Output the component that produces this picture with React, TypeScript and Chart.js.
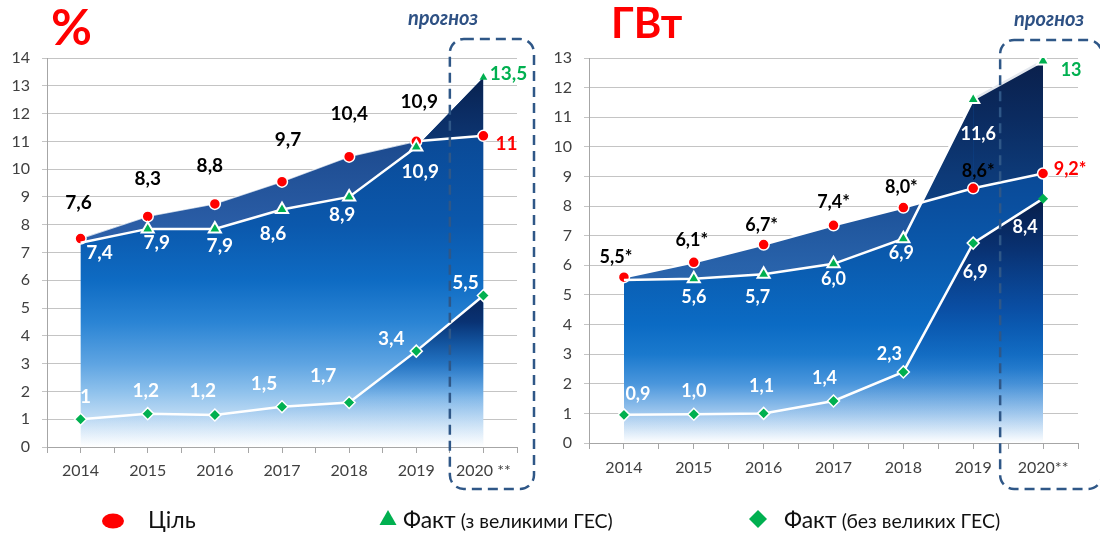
import React, { useEffect, useRef } from 'react';
import { Chart, registerables } from 'chart.js';
Chart.register(...registerables);

const FONT = "Lato, 'Noto Sans', sans-serif";

// ---------- data: % chart ----------
const yearsPct = ['2014', '2015', '2016', '2017', '2018', '2019', '2020 **'];
const pctTarget = [7.5, 8.3, 8.75, 9.55, 10.45, 11.0, 11.2];
const pctTargetLabels = ['7,6', '8,3', '8,8', '9,7', '10,4', '10,9', '11'];
const pctFactBig = [7.35, 7.85, 7.85, 8.55, 9.0, 10.8, 13.3];
const pctFactBigLabels = ['7,4', '7,9', '7,9', '8,6', '8,9', '10,9', '13,5'];
const pctFactNoBig = [1.0, 1.2, 1.15, 1.45, 1.6, 3.45, 5.45];
const pctFactNoBigLabels = ['1', '1,2', '1,2', '1,5', '1,7', '3,4', '5,5'];

// ---------- data: GW chart ----------
const yearsGw = ['2014', '2015', '2016', '2017', '2018', '2019', '2020**'];
const gwTarget = [5.6, 6.1, 6.7, 7.35, 7.95, 8.6, 9.1];
const gwTargetLabels = ['5,5*', '6,1*', '6,7*', '7,4*', '8,0*', '8,6*', '9,2*'];
const gwFactBig = [5.5, 5.55, 5.7, 6.05, 6.9, 11.6, 12.9];
const gwFactBigLabels = ['', '5,6', '5,7', '6,0', '6,9', '11,6', '13'];
const gwFactNoBig = [0.95, 0.97, 1.0, 1.42, 2.4, 6.75, 8.25];
const gwFactNoBigLabels = ['0,9', '1,0', '1,1', '1,4', '2,3', '6,9', '8,4'];

const legendItems = ['Ціль', 'Факт', '(з великими ГЕС)', 'Факт', '(без великих ГЕС)'];

type Stops = [number, string][];

const RED = '#ff0000';
const GREEN = '#00b050';

const leftSpec = {
  years: yearsPct,
  max: 14,
  target: pctTarget,
  factBig: pctFactBig,
  factNoBig: pctFactNoBig,
  yWidth: 47,
  padding: { top: 58, right: 583, bottom: 49, left: 0 },
  xPad: 8,
  labelSize: 19,
  labels: [
    { ds: 0, text: pctTargetLabels, color: ['#000', '#000', '#000', '#000', '#000', '#000', RED],
      off: [[-2, -36], [0, -38], [-5, -38], [6, -42], [0, -43], [3, -39], [23, 8]] },
    { ds: 2, text: pctFactBigLabels, color: ['#fff', '#fff', '#fff', '#fff', '#fff', '#fff', GREEN],
      off: [[19, 10], [9, 14], [5, 17], [-9, 24], [-7, 18], [4, 25], [25, -4]] },
    { ds: 3, text: pctFactNoBigLabels, color: '#fff',
      off: [[5, -22], [-2, -23], [-12, -24], [-18, -23], [-26, -27], [-25, -12], [-18, -13]] },
  ],
  targetSegment: {
    borderWidth: (c: any) => (c.p0DataIndex < 5 ? 1.2 : 2.5),
    borderColor: (c: any) => (c.p0DataIndex < 5 ? 'rgba(255,255,255,0.75)' : '#ffffff'),
  },
  factSegment: {
    borderColor: (c: any) => (c.p0DataIndex >= 5 ? 'rgba(0,0,0,0)' : '#ffffff'),
  },
  factRadius: [0, 7, 7, 7, 7, 7, 4.5],
  factBorder: [0, 2, 2, 2, 2, 2, 0],
  noBigRadius: [6, 6, 6, 6, 6, 6, 6],
  noBigBorder: [1.5, 1.5, 1.5, 1.5, 1.5, 1.5, 1.5],
  lightStops: [[11.5, '#0a4894'], [8, '#0b58ac'], [6, '#0e6bc3'], [4.5, '#2a84d4'], [3, '#5ea4e2'], [2, '#8ec1ec'], [1, '#c4def5'], [0, '#ffffff']] as Stops,
  midStops: [[11, '#1c4a8e'], [8, '#2a5da6'], [7, '#2f64ad']] as Stops,
  navyStops: [[13.5, '#08204c'], [12, '#0b2d64'], [10.5, '#0e3a78']] as Stops,
  darkStops: [[5.5, 'rgba(8,36,90,1)'], [4.5, 'rgba(9,50,115,1)'], [3, 'rgba(12,95,180,0.7)'], [1.8, 'rgba(30,120,210,0.2)'], [0, 'rgba(255,255,255,0)']] as Stops,
  title: { text: '%', x: 51, y: 45, size: 50 },
  forecast: { x: 443, y: 25 },
  box: { dl: 0, dr: 17, dt: 19, db: 42 },
  legend: true,
};

const rightSpec = {
  years: yearsGw,
  max: 13,
  target: gwTarget,
  factBig: gwFactBig,
  factNoBig: gwFactNoBig,
  yWidth: 41,
  padding: { top: 58, right: 22, bottom: 53, left: 0 },
  xPad: 9,
  labelSize: 18,
  labels: [
    { ds: 0, text: gwTargetLabels, color: ['#000', '#000', '#000', '#000', '#000', '#000', RED],
      off: [[-8, -20], [-2, -22], [-2, -19], [0, -23], [-2, -20], [5, -17], [27, -4]] },
    { ds: 2, text: gwFactBigLabels, color: ['#fff', '#fff', '#fff', '#fff', '#fff', '#fff', GREEN],
      off: [[0, 0], [0, 19], [-6, 23], [0, 15], [-2, 15], [5, 35], [28, 9]] },
    { ds: 3, text: gwFactNoBigLabels, color: '#fff',
      off: [[14, -21], [0, -23], [-2, -27], [-9, -23], [-14, -18], [2, 29], [-18, 29]] },
  ],
  targetSegment: {},
  factSegment: {
    borderColor: (c: any) => (c.p0DataIndex >= 5 ? '#e4e8ee' : '#ffffff'),
  },
  factRadius: [0, 7, 7, 7, 7, 7, 7],
  factBorder: [0, 2, 2, 2, 2, 2, 2],
  noBigRadius: [6, 6, 6, 6, 6, 6, 5],
  noBigBorder: [1.5, 1.5, 1.5, 1.5, 1.5, 1.5, 0],
  lightStops: [[10, '#0a4590'], [8, '#0a4f9f'], [6, '#0a5cb0'], [4, '#0b6bc4'], [3, '#1a79cd'], [2, '#4a96dc'], [1, '#a0c8ee'], [0, '#ffffff']] as Stops,
  midStops: [[8, '#1d5299'], [6, '#2862aa'], [5, '#2d67ae']] as Stops,
  navyStops: [[13, '#0a1f4a'], [11, '#0b2b60'], [9, '#0d3a78'], [7, '#0f4588']] as Stops,
  darkStops: [[8.4, 'rgba(7,28,70,1)'], [6.5, 'rgba(9,50,115,1)'], [4.5, 'rgba(10,75,160,0.85)'], [2.5, 'rgba(12,100,190,0.35)'], [0, 'rgba(255,255,255,0)']] as Stops,
  title: { text: 'ГВт', x: 63, y: 38, size: 42 },
  forecast: { x: 501, y: 26 },
  box: { dl: -8, dr: 24, dt: 18, db: 46 },
  legend: false,
};

function makeGrad(chart: any, stops: Stops) {
  const y = chart.scales.y;
  const top = y.getPixelForValue(y.max);
  const bottom = y.getPixelForValue(0);
  const g = chart.ctx.createLinearGradient(0, top, 0, bottom);
  for (const [v, c] of stops) {
    const p = (y.getPixelForValue(v) - top) / (bottom - top);
    g.addColorStop(Math.min(1, Math.max(0, p)), c);
  }
  return g;
}

function buildChart(canvas: HTMLCanvasElement, s: any) {
  const pts = (arr: number[]) => arr.map((v, i) => ({ x: i, y: v }));

  const decor = {
    id: 'decor',
    afterDatasetsDraw(chart: any) {
      const ctx = chart.ctx;
      ctx.save();
      ctx.textAlign = 'center';
      ctx.textBaseline = 'middle';
      ctx.font = `bold ${s.labelSize}px ${FONT}`;
      for (const l of s.labels) {
        const meta = chart.getDatasetMeta(l.ds);
        l.text.forEach((t: string, i: number) => {
          if (!t) return;
          const p = meta.data[i];
          ctx.fillStyle = Array.isArray(l.color) ? l.color[i] : l.color;
          ctx.fillText(t, p.x + l.off[i][0], p.y + l.off[i][1]);
        });
      }
      ctx.restore();
    },
    afterDraw(chart: any) {
      const ctx = chart.ctx;
      const xs = chart.scales.x;
      const ys = chart.scales.y;
      ctx.save();
      // title
      ctx.fillStyle = RED;
      ctx.font = `bold ${s.title.size}px ${FONT}`;
      ctx.textAlign = 'left';
      ctx.textBaseline = 'alphabetic';
      ctx.fillText(s.title.text, s.title.x, s.title.y);
      // forecast caption
      ctx.fillStyle = '#2e5184';
      ctx.font = `italic bold 20px ${FONT}`;
      ctx.textAlign = 'center';
      ctx.fillText('прогноз', s.forecast.x, s.forecast.y);
      // dashed box
      const x0 = xs.getPixelForValue(5.5) + s.box.dl;
      const x1 = xs.right + s.box.dr;
      const y0 = ys.top - s.box.dt;
      const y1 = ys.bottom + s.box.db;
      ctx.strokeStyle = '#2f5787';
      ctx.lineWidth = 2.5;
      ctx.setLineDash([10, 6]);
      ctx.beginPath();
      (ctx as any).roundRect(x0, y0, x1 - x0, y1 - y0, 14);
      ctx.stroke();
      ctx.setLineDash([]);
      // legend
      if (s.legend) {
        ctx.fillStyle = RED;
        ctx.beginPath();
        ctx.ellipse(113, 521, 11, 7.5, 0, 0, Math.PI * 2);
        ctx.fill();
        ctx.fillStyle = '#111';
        ctx.textAlign = 'left';
        ctx.textBaseline = 'alphabetic';
        ctx.font = `23px ${FONT}`;
        ctx.fillText(legendItems[0], 148, 528);

        ctx.fillStyle = GREEN;
        ctx.beginPath();
        ctx.moveTo(388, 510);
        ctx.lineTo(396.5, 525);
        ctx.lineTo(379.5, 525);
        ctx.closePath();
        ctx.fill();
        ctx.fillStyle = '#111';
        ctx.font = `23px ${FONT}`;
        ctx.fillText(legendItems[1], 403, 528);
        const w1 = ctx.measureText(legendItems[1]).width;
        ctx.font = `19.5px ${FONT}`;
        ctx.fillText(legendItems[2], 403 + w1 + 5, 528);

        ctx.fillStyle = GREEN;
        ctx.beginPath();
        ctx.moveTo(758, 510);
        ctx.lineTo(767, 519);
        ctx.lineTo(758, 528);
        ctx.lineTo(749, 519);
        ctx.closePath();
        ctx.fill();
        ctx.fillStyle = '#111';
        ctx.font = `23px ${FONT}`;
        ctx.fillText(legendItems[3], 784, 528);
        const w2 = ctx.measureText(legendItems[3]).width;
        ctx.font = `19.5px ${FONT}`;
        ctx.fillText(legendItems[4], 784 + w2 + 5, 528);
      }
      ctx.restore();
    },
  };

  const chart = new Chart(canvas, {
    type: 'line',
    data: {
      datasets: [
        {
          label: 'target',
          data: pts(s.target),
          order: 5,
          borderColor: '#ffffff',
          borderWidth: 2.5,
          segment: s.targetSegment,
          pointStyle: 'circle',
          pointRadius: 5.5,
          pointBackgroundColor: RED,
          pointBorderColor: '#ffffff',
          pointBorderWidth: 1.5,
          fill: 'origin',
          backgroundColor: 'rgba(0,0,0,0)',
        },
        {
          label: 'factBigBase',
          data: pts(s.factBig),
          order: 6,
          borderColor: 'rgba(0,0,0,0)',
          borderWidth: 1,
          pointRadius: 0,
          fill: 'origin',
          backgroundColor: 'rgba(0,0,0,0)',
        },
        {
          label: 'factBig',
          data: pts(s.factBig),
          order: 4,
          borderColor: '#ffffff',
          borderWidth: 2.5,
          segment: s.factSegment,
          pointStyle: 'triangle',
          pointRadius: s.factRadius,
          pointBackgroundColor: GREEN,
          pointBorderColor: '#ffffff',
          pointBorderWidth: s.factBorder,
          fill: { target: 0, above: 'rgba(0,0,0,0)', below: 'rgba(0,0,0,0)' },
        },
        {
          label: 'factNoBig',
          data: pts(s.factNoBig),
          order: 3,
          borderColor: '#ffffff',
          borderWidth: 2.5,
          pointStyle: 'rectRot',
          pointRadius: s.noBigRadius,
          pointBackgroundColor: GREEN,
          pointBorderColor: '#ffffff',
          pointBorderWidth: s.noBigBorder,
          fill: 'origin',
          backgroundColor: 'rgba(0,0,0,0)',
        },
      ] as any,
    },
    options: {
      responsive: false,
      animation: false,
      events: [],
      layout: { padding: s.padding, autoPadding: false },
      elements: { line: { tension: 0 } },
      plugins: {
        legend: { display: false },
        tooltip: { enabled: false },
        filler: { drawTime: 'beforeDatasetsDraw', propagate: false },
      },
      scales: {
        x: {
          type: 'linear',
          min: -0.5,
          max: 6.5,
          afterFit: (sc: any) => { sc.height = 40; },
          ticks: {
            stepSize: 0.5,
            autoSkip: false,
            maxRotation: 0,
            maxTicksLimit: 100,
            padding: s.xPad,
            color: '#404040',
            font: { family: FONT, size: 16 },
            callback: (v: any) => {
              const n = Number(v);
              return Math.abs(n - Math.round(n)) < 1e-6 ? s.years[Math.round(n)] ?? '' : '';
            },
          },
          grid: { drawOnChartArea: false, tickLength: 6, color: '#a6a6a6' },
          border: { color: '#a6a6a6' },
        },
        y: {
          min: 0,
          max: s.max,
          afterFit: (sc: any) => { sc.width = s.yWidth; },
          ticks: {
            stepSize: 1,
            autoSkip: false,
            maxTicksLimit: 100,
            padding: 12,
            color: '#404040',
            font: { family: FONT, size: 16 },
          },
          grid: { color: '#c4c4c4', tickLength: 5 },
          border: { color: '#a6a6a6' },
        },
      },
    } as any,
    plugins: [decor],
  });

  const ds: any[] = chart.data.datasets as any[];
  ds[0].backgroundColor = makeGrad(chart, s.lightStops);
  ds[1].backgroundColor = makeGrad(chart, s.lightStops);
  ds[2].fill = { target: 0, above: makeGrad(chart, s.navyStops), below: makeGrad(chart, s.midStops) };
  ds[3].backgroundColor = makeGrad(chart, s.darkStops);
  chart.update();
  return chart;
}

export default function App() {
  const leftRef = useRef<HTMLCanvasElement>(null);
  const rightRef = useRef<HTMLCanvasElement>(null);
  useEffect(() => {
    const c1 = buildChart(leftRef.current as HTMLCanvasElement, leftSpec);
    const c2 = buildChart(rightRef.current as HTMLCanvasElement, rightSpec);
    return () => {
      c1.destroy();
      c2.destroy();
    };
  }, []);
  return (
    <div style={{ position: 'absolute', left: 0, top: 0, width: 1100, height: 536, background: '#ffffff', overflow: 'hidden' }}>
      <canvas ref={leftRef} width={1100} height={536} style={{ position: 'absolute', left: 0, top: 0 }} />
      <canvas ref={rightRef} width={552} height={536} style={{ position: 'absolute', left: 548, top: 0 }} />
    </div>
  );
}
